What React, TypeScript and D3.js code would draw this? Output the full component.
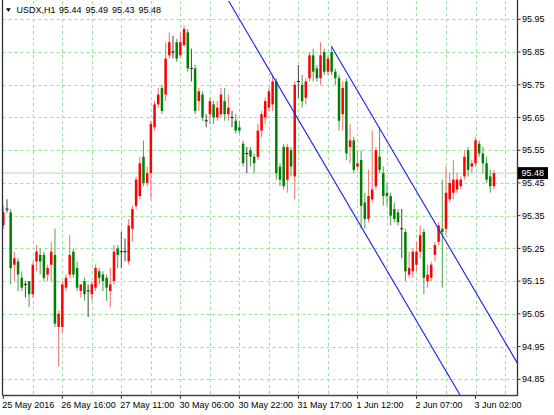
import React from "react";
import * as d3 from "d3";

// ---- Data (USDX, H1) ----
const OPEN = [
  95.32, 95.37, 95.36, 95.20, 95.21, 95.16, 95.14, 95.15, 95.11, 95.21,
  95.23, 95.23, 95.17, 95.20, 95.23, 95.01, 95.01, 95.13, 95.17, 95.24,
  95.19, 95.12, 95.15, 95.12, 95.11, 95.13, 95.18, 95.17, 95.16, 95.12,
  95.15, 95.25, 95.24, 95.24, 95.21, 95.31, 95.38, 95.41, 95.53, 95.45,
  95.48, 95.62, 95.69, 95.74, 95.72, 95.84, 95.85, 95.88, 95.84, 95.87,
  95.91, 95.80, 95.80, 95.70, 95.72, 95.64, 95.66, 95.69, 95.65, 95.66,
  95.70, 95.66, 95.65, 95.64, 95.62, 95.57, 95.54, 95.55, 95.53, 95.53,
  95.61, 95.65, 95.68, 95.69, 95.76, 95.50, 95.56, 95.46, 95.55, 95.47,
  95.76, 95.75, 95.71, 95.77, 95.84, 95.80, 95.77, 95.85, 95.79, 95.85,
  95.79, 95.77, 95.66, 95.76, 95.56, 95.58, 95.50, 95.52, 95.39, 95.34,
  95.40, 95.44, 95.53, 95.48, 95.42, 95.41, 95.37, 95.36, 95.31, 95.30,
  95.17, 95.18, 95.20, 95.24, 95.30, 95.15, 95.16, 95.23, 95.27, 95.31,
  95.31, 95.40, 95.42, 95.43, 95.44, 95.47, 95.55, 95.50, 95.51, 95.57,
  95.54, 95.51, 95.47, 95.44,
];
const HIGH = [
  95.38, 95.40, 95.37, 95.24, 95.22, 95.18, 95.15, 95.15, 95.21, 95.26,
  95.25, 95.24, 95.20, 95.27, 95.31, 95.06, 95.15, 95.17, 95.29, 95.25,
  95.21, 95.14, 95.16, 95.14, 95.15, 95.20, 95.19, 95.18, 95.17, 95.19,
  95.26, 95.26, 95.30, 95.28, 95.34, 95.38, 95.47, 95.53, 95.58, 95.50,
  95.64, 95.70, 95.74, 95.75, 95.88, 95.91, 95.90, 95.89, 95.91, 95.93,
  95.92, 95.86, 95.81, 95.74, 95.73, 95.66, 95.71, 95.70, 95.70, 95.74,
  95.74, 95.72, 95.67, 95.66, 95.64, 95.58, 95.56, 95.56, 95.54, 95.63,
  95.67, 95.71, 95.74, 95.78, 95.77, 95.51, 95.57, 95.57, 95.56, 95.76,
  95.81, 95.78, 95.77, 95.85, 95.86, 95.81, 95.88, 95.86, 95.84, 95.87,
  95.80, 95.78, 95.76, 95.77, 95.63, 95.59, 95.55, 95.55, 95.42, 95.49,
  95.61, 95.56, 95.62, 95.50, 95.45, 95.42, 95.39, 95.37, 95.37, 95.31,
  95.24, 95.25, 95.27, 95.32, 95.31, 95.20, 95.21, 95.27, 95.33, 95.46,
  95.50, 95.48, 95.52, 95.48, 95.47, 95.55, 95.56, 95.52, 95.59, 95.58,
  95.56, 95.53, 95.49, 95.49,
];
const LOW = [
  95.31, 95.36, 95.14, 95.15, 95.12, 95.12, 95.10, 95.07, 95.10, 95.18,
  95.17, 95.15, 95.15, 95.15, 95.01, 94.89, 94.99, 95.12, 95.16, 95.16,
  95.12, 95.10, 95.09, 95.04, 95.09, 95.12, 95.14, 95.12, 95.09, 95.07,
  95.14, 95.19, 95.19, 95.21, 95.20, 95.27, 95.37, 95.40, 95.44, 95.44,
  95.40, 95.61, 95.68, 95.66, 95.70, 95.83, 95.83, 95.82, 95.83, 95.87,
  95.79, 95.76, 95.66, 95.67, 95.64, 95.62, 95.63, 95.63, 95.64, 95.65,
  95.64, 95.64, 95.62, 95.60, 95.60, 95.50, 95.48, 95.50, 95.48, 95.52,
  95.59, 95.63, 95.67, 95.67, 95.46, 95.44, 95.43, 95.42, 95.47, 95.40,
  95.71, 95.68, 95.69, 95.76, 95.76, 95.76, 95.75, 95.78, 95.78, 95.78,
  95.75, 95.61, 95.61, 95.52, 95.51, 95.48, 95.49, 95.31, 95.31, 95.33,
  95.39, 95.43, 95.48, 95.38, 95.38, 95.32, 95.33, 95.32, 95.22, 95.15,
  95.16, 95.16, 95.18, 95.22, 95.11, 95.13, 95.15, 95.21, 95.26, 95.13,
  95.29, 95.39, 95.40, 95.42, 95.43, 95.46, 95.47, 95.48, 95.50, 95.53,
  95.48, 95.45, 95.42, 95.43,
];
const CLOSE = [
  95.36, 95.37, 95.19, 95.22, 95.17, 95.13, 95.14, 95.11, 95.20, 95.24,
  95.21, 95.16, 95.19, 95.24, 95.02, 95.05, 95.14, 95.16, 95.23, 95.17,
  95.13, 95.14, 95.11, 95.12, 95.14, 95.19, 95.16, 95.15, 95.13, 95.14,
  95.24, 95.23, 95.24, 95.24, 95.32, 95.37, 95.46, 95.51, 95.45, 95.48,
  95.63, 95.69, 95.72, 95.67, 95.83, 95.88, 95.85, 95.83, 95.88, 95.92,
  95.80, 95.80, 95.67, 95.73, 95.65, 95.64, 95.70, 95.65, 95.68, 95.72,
  95.66, 95.68, 95.65, 95.61, 95.61, 95.51, 95.54, 95.53, 95.51, 95.61,
  95.66, 95.70, 95.73, 95.76, 95.48, 95.46, 95.44, 95.56, 95.50, 95.75,
  95.76, 95.70, 95.76, 95.84, 95.79, 95.77, 95.84, 95.79, 95.83, 95.79,
  95.77, 95.64, 95.74, 95.54, 95.58, 95.49, 95.51, 95.38, 95.34, 95.41,
  95.43, 95.55, 95.49, 95.41, 95.41, 95.35, 95.34, 95.33, 95.31, 95.18,
  95.19, 95.24, 95.24, 95.29, 95.16, 95.17, 95.20, 95.26, 95.32, 95.30,
  95.42, 95.45, 95.46, 95.46, 95.46, 95.53, 95.49, 95.51, 95.58, 95.54,
  95.51, 95.46, 95.44, 95.48,
];

const TIME_TICK_BARS = [0, 16, 32, 48, 64, 80, 96, 112, 128];
const TIME_TICK_LABELS = [
  "25 May 2016", "26 May 16:00", "27 May 11:00", "30 May 06:00", "30 May 22:00",
  "31 May 17:00", "1 Jun 12:00", "2 Jun 07:00", "3 Jun 02:00",
];
const PRICE_TICKS = [94.85, 94.95, 95.05, 95.15, 95.25, 95.35, 95.45, 95.55, 95.65, 95.75, 95.85, 95.95];

const CHANNEL_START_BAR = [60, 89];
const CHANNEL_START_PRICE = [96.027, 95.866];
const CHANNEL_SLOPE = -0.0192;

const SYMBOL = "USDX,H1";
const LAST_BAR_TEXT = "95.44 95.49 95.43 95.48";
const BID = 95.48;

// ---- Layout ----
const W = 554;
const H = 415;
const PL = 2.5;
const PR = 517.5;
const PT = 1;
const PB = 395.5;
const FONT = "'Liberation Sans', Arial, sans-serif";

export default function App() {
  const x = d3.scaleLinear().domain([0, 128]).range([3.3, 475.5]);
  const y = d3.scaleLinear().domain([94.85, 95.95]).range([379.3, 19.3]);
  const gridBars = d3.range(8, 137, 8);
  const endBar = x.invert(PR);

  const candles = OPEN.map((o, i) => {
    const c = CLOSE[i];
    const h = HIGH[i];
    const l = LOW[i];
    const cx = x(i);
    const up = c > o;
    const down = c < o;
    const bodyCol = up ? "#ff0000" : down ? "#008000" : "#000000";
    const wickCol = up ? "#f07a7a" : down ? "#5aa85a" : "#555555";
    const yTop = y(Math.max(o, c));
    const yBot = y(Math.min(o, c));
    return (
      <g key={i}>
        <line x1={cx} x2={cx} y1={y(h)} y2={y(l)} stroke={wickCol} strokeWidth={1.1} />
        {up || down ? (
          <rect x={cx - 1.25} y={yTop} width={2.5} height={Math.max(1, yBot - yTop)} fill={bodyCol} />
        ) : (
          <line x1={cx - 1.6} x2={cx + 1.6} y1={y(o)} y2={y(o)} stroke="#222" strokeWidth={1} />
        )}
      </g>
    );
  });

  const channel = CHANNEL_START_BAR.map((b, k) => {
    const p0 = CHANNEL_START_PRICE[k];
    const p1 = p0 + CHANNEL_SLOPE * (endBar - b);
    return (
      <line
        key={k}
        x1={x(b)}
        y1={y(p0)}
        x2={x(endBar)}
        y2={y(p1)}
        stroke="#1a1aff"
        strokeWidth={1.1}
      />
    );
  });

  return (
    <svg
      width={W}
      height={H}
      style={{ position: "absolute", left: 0, top: 0, background: "#fff" }}
      fontFamily={FONT}
    >
      <defs>
        <clipPath id="plot">
          <rect x={PL} y={PT} width={PR - PL} height={PB - PT} />
        </clipPath>
      </defs>
      <rect x={0} y={0} width={W} height={H} fill="#fff" />

      {/* grid */}
      <g stroke="#8fea8f" strokeWidth={1} strokeDasharray="3,3">
        {PRICE_TICKS.map((p) => (
          <line key={p} x1={PL} x2={PR} y1={Math.round(y(p)) + 0.5} y2={Math.round(y(p)) + 0.5} />
        ))}
        {gridBars.map((b) => (
          <line key={b} x1={Math.round(x(b)) + 0.5} x2={Math.round(x(b)) + 0.5} y1={PT} y2={PB} />
        ))}
      </g>

      {/* bid line */}
      <line x1={PL} x2={PR} y1={y(BID)} y2={y(BID)} stroke="#a6e8a6" strokeWidth={1} />

      <g clipPath="url(#plot)">
        {candles}
        {channel}
      </g>

      {/* frame */}
      <line x1={PL} x2={PL} y1={0} y2={PB} stroke="#333" strokeWidth={1.3} />
      <line x1={PR} x2={PR} y1={0} y2={PB + 0.5} stroke="#333" strokeWidth={1.3} />
      <line x1={PL} x2={PR} y1={PB} y2={PB} stroke="#444" strokeWidth={1.5} />

      {/* time axis */}
      {TIME_TICK_BARS.map((b, k) => (
        <g key={b}>
          <line x1={x(b)} x2={x(b)} y1={PB} y2={PB + 3.5} stroke="#333" strokeWidth={1} />
          <text x={x(b) - 1} y={408} fontSize={9} fill="#000">
            {TIME_TICK_LABELS[k]}
          </text>
        </g>
      ))}

      {/* price axis */}
      {PRICE_TICKS.map((p) => (
        <g key={p}>
          <line x1={PR} x2={PR + 3} y1={y(p)} y2={y(p)} stroke="#333" strokeWidth={1} />
          <text x={522} y={y(p)} dy="0.35em" fontSize={9} fill="#000">
            {p.toFixed(2)}
          </text>
        </g>
      ))}
      <rect x={518} y={y(BID) - 6} width={30} height={12} fill="#000" />
      <text x={521.5} y={y(BID)} dy="0.35em" fontSize={9} fill="#fff">
        {BID.toFixed(2)}
      </text>

      {/* title */}
      <path d="M6,8.3 L10.8,8.3 L8.4,11.8 Z" fill="#000" />
      <text x={16.5} y={12.7} fontSize={9} fill="#000">
        {SYMBOL}
      </text>
      <text x={59} y={12.7} fontSize={9} fill="#000" wordSpacing={1.5}>
        {LAST_BAR_TEXT}
      </text>
    </svg>
  );
}
